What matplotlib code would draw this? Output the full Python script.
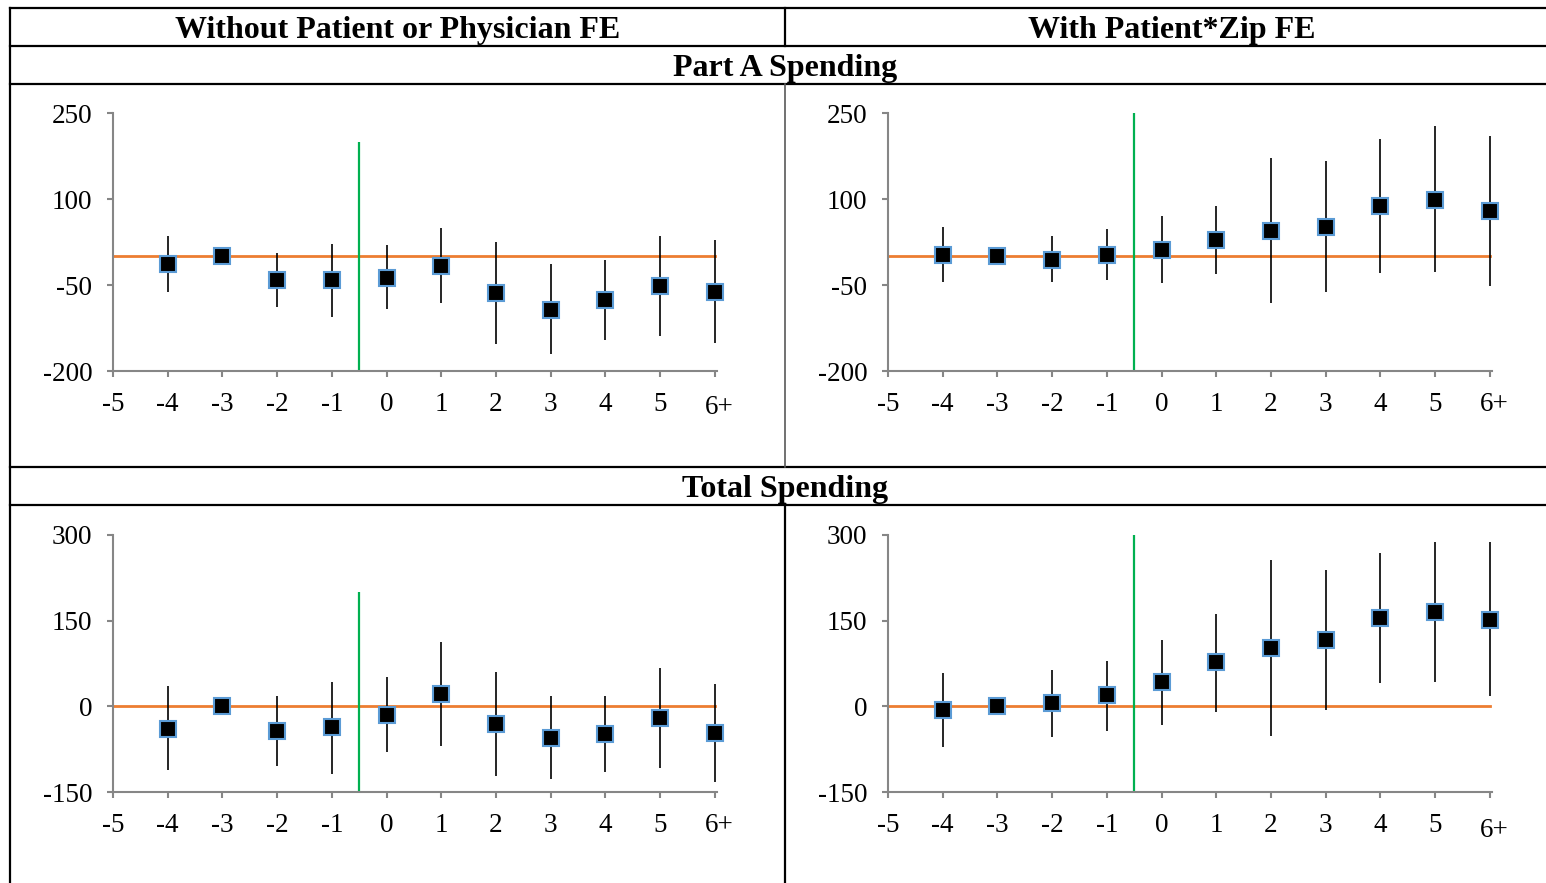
import numpy as np
import matplotlib.pyplot as plt
from matplotlib.lines import Line2D
import matplotlib.transforms as mtransforms

plt.rcParams['font.family'] = ['Liberation Serif', 'DejaVu Serif']
plt.rcParams['axes.unicode_minus'] = False

# event time relative to the switch (6 = "6 or more")
years = [-4, -3, -2, -1, 0, 1, 2, 3, 4, 5, 6]
tick_pos = list(range(-5, 7))
tick_labels = ['-5', '-4', '-3', '-2', '-1', '0', '1', '2', '3', '4', '5', '6+']
nan = np.nan

# Part A spending, no patient or physician fixed effects
parta_nofe = [-13, 0, -41, -42, -37, -16, -64, -93, -76, -52, -63]
parta_nofe_lo = [-62, nan, -88, -105, -92, -82, -153, -170, -146, -139, -152]
parta_nofe_hi = [36, nan, 6, 21, 19, 50, 25, -13, -6, 35, 28]

# Part A spending, patient*zip fixed effects
parta_zip = [3, 0, -6, 2, 11, 29, 44, 51, 87, 99, 79]
parta_zip_lo = [-45, nan, -45, -42, -46, -30, -82, -63, -29, -28, -51]
parta_zip_hi = [51, nan, 35, 47, 70, 88, 172, 167, 204, 228, 210]

# Total spending, no patient or physician fixed effects
total_nofe = [-39, 0, -44, -37, -16, 22, -31, -55, -48, -21, -47]
total_nofe_lo = [-112, nan, -105, -118, -80, -69, -122, -128, -115, -108, -132]
total_nofe_hi = [35, nan, 18, 43, 52, 112, 60, 18, 18, 67, 39]

# Total spending, patient*zip fixed effects
total_zip = [-7, 0, 6, 19, 43, 77, 103, 116, 154, 165, 152]
total_zip_lo = [-71, nan, -54, -44, -32, -10, -52, -6, 40, 42, 18]
total_zip_hi = [59, nan, 63, 79, 117, 161, 256, 239, 268, 287, 287]

parta_ticks = [-200, -50, 100, 250]
total_ticks = [-150, 0, 150, 300]

W, H = 1546, 883
fig = plt.figure(figsize=(W / 100, H / 100), dpi=100)


def fx(px):
    return px / W


def fy(py):
    return 1 - py / H


def panel(left, right, top, bottom, est, lo, hi, yticks, vline_top, label_drop):
    ax = fig.add_axes([fx(left), fy(bottom), fx(right - left), (bottom - top) / H])
    ax.set_xlim(-5, 6.04)
    ax.set_ylim(yticks[0], yticks[-1])
    ax.set_xticks(tick_pos)
    ax.set_xticklabels(tick_labels)
    ax.set_yticks(yticks)
    for s in ['top', 'right']:
        ax.spines[s].set_visible(False)
    for s in ['left', 'bottom']:
        ax.spines[s].set_color('#868686')
        ax.spines[s].set_linewidth(1.5)
    ax.tick_params(direction='out', length=4, width=1.5, color='#868686',
                   labelsize=19.5, pad=11)
    ax.tick_params(axis='y', pad=11)

    ax.plot([-5, 6], [0, 0], color='#ed7d31', lw=2, zorder=2)
    ax.vlines(-0.5, yticks[0], vline_top, color='#00b050', lw=1.6, zorder=2)
    ax.vlines(years, lo, hi, color='black', lw=1.2, zorder=3, clip_on=False)
    ax.plot(years, est, ls='none', marker='s', ms=11, mfc='black',
            mec='#5b9bd5', mew=1.5, zorder=4, clip_on=False)

    # the "6+" label sits a little right of (and sometimes below) its tick
    last = ax.get_xticklabels()[-1]
    last.set_transform(last.get_transform() +
                       mtransforms.ScaledTranslation(5 / 100, -label_drop / 100,
                                                     fig.dpi_scale_trans))
    ax.patch.set_alpha(0)
    return ax


panel(113, 717, 113, 371, parta_nofe, parta_nofe_lo, parta_nofe_hi, parta_ticks, 200, 3)
panel(888, 1492, 113, 371, parta_zip, parta_zip_lo, parta_zip_hi, parta_ticks, 250, 0)
panel(113, 717, 535, 792, total_nofe, total_nofe_lo, total_nofe_hi, total_ticks, 200, 0)
panel(888, 1492, 535, 792, total_zip, total_zip_lo, total_zip_hi, total_ticks, 300, 5)


# table rules around the panels
def rule(x0, x1, y0, y1, color='black', lw=1.6):
    fig.add_artist(Line2D([fx(x0), fx(x1)], [fy(y0), fy(y1)], color=color, lw=lw))


for y in [8, 46, 84, 467, 505]:
    rule(10, W, y, y)
rule(10, 10, 8, H)
rule(785, 785, 8, 46)
rule(785, 785, 84, 467, color='#595959', lw=1.2)
rule(785, 785, 505, H)

hdr = dict(fontsize=23, fontweight='bold', ha='center', va='baseline')
fig.text(fx(398), fy(38), 'Without Patient or Physician FE', **hdr)
fig.text(fx(1172), fy(38), 'With Patient*Zip FE', **hdr)
fig.text(fx(785), fy(76), 'Part A Spending', **hdr)
fig.text(fx(785), fy(497), 'Total Spending', **hdr)

fig.savefig('out.png', dpi=100)
